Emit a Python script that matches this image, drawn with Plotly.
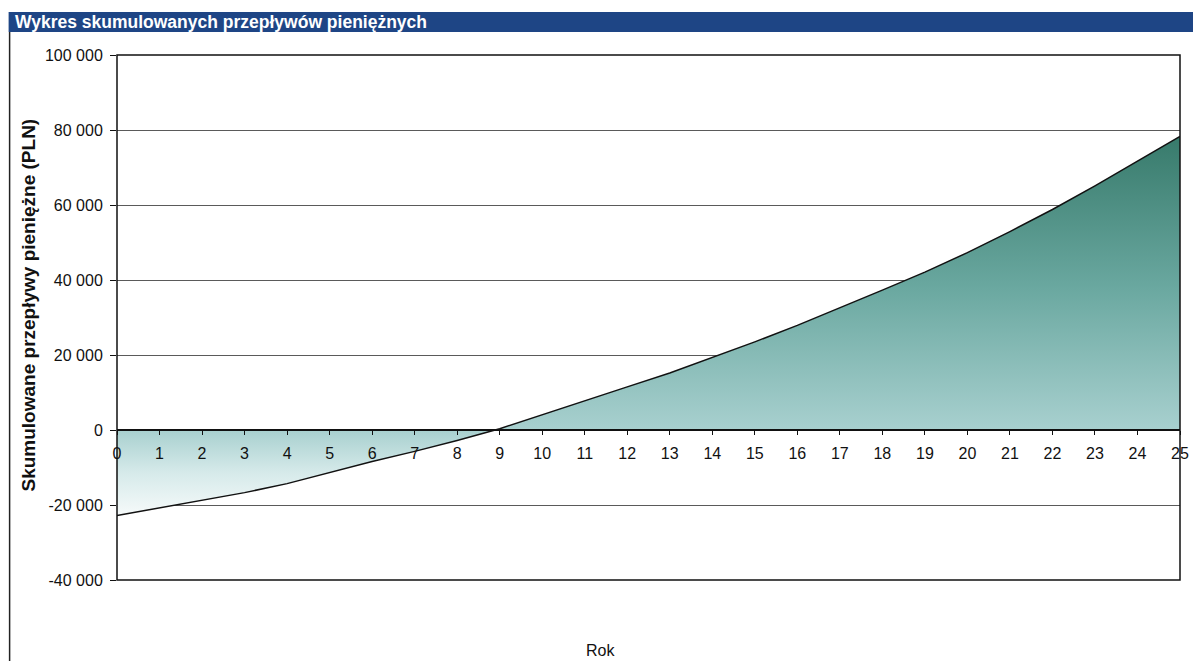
import plotly.graph_objects as go

years = list(range(0, 26))
cumulative_pln = [-22800, -20800, -18800, -16700, -14300, -11300, -8400, -5700, -2800, 350,
                  4000, 7800, 11500, 15200, 19300, 23500, 27900, 32500, 37300, 42100,
                  47300, 52900, 58800, 65100, 71800, 78300]
y_ticks = [-40000, -20000, 0, 20000, 40000, 60000, 80000, 100000]
y_ticktext = [f"{v:,}".replace(",", " ") for v in y_ticks]
x_ticks = years

title_text = "Wykres skumulowanych przepływów pieniężnych"
y_title = "Skumulowane przepływy pieniężne (PLN)"
x_title = "Rok"

# The page places the figure 8px from the top-left corner of the window,
# so the figure is sized and laid out in coordinates shifted by 8px.
OFF = 8
W, H = 1201 - OFF, 661 - OFF
L, R, T, B = 117 - OFF, 1186 - OFF, 55 - OFF, 580 - OFF  # plot area in figure pixels


def px(xpage):
    return (xpage - OFF - L) / (R - L)


def py(ypage):
    return (B - (ypage - OFF)) / (B - T)


font_family = "Arial, Liberation Sans, sans-serif"
ymin, ymax = min(cumulative_pln), max(cumulative_pln)
zero_frac = (0 - ymin) / (ymax - ymin)

fig = go.Figure()
fig.add_trace(go.Scatter(
    x=years, y=cumulative_pln, mode="lines", fill="tozeroy",
    line=dict(color="#111111", width=1.5),
    fillgradient=dict(
        type="vertical", start=ymin, stop=ymax,
        colorscale=[[0, "#f6fafa"], [zero_frac * 0.5, "#d6eaea"],
                    [zero_frac, "#a8d0cf"], [0.6, "#6aa8a0"], [1, "#377a6b"]]),
    hoverinfo="x+y", showlegend=False,
))

fig.update_layout(
    width=W, height=H,
    margin=dict(l=L, r=W - R, t=T, b=H - B),
    paper_bgcolor="white", plot_bgcolor="white",
    font=dict(family=font_family, size=16, color="#111111"),
    showlegend=False,
)
fig.update_yaxes(
    range=[-40000, 100000], tickvals=y_ticks, ticktext=y_ticktext,
    showgrid=True, gridcolor="#5a5a5a", gridwidth=1,
    zeroline=False, showline=False,
    ticks="outside", ticklen=6, tickcolor="#111111", ticklabelstandoff=4,
    tickfont=dict(size=16, color="#111111"),
)
fig.update_xaxes(
    range=[0, 25], tickvals=x_ticks, showgrid=False, zeroline=False,
    showline=True, linecolor="#111111", linewidth=1.5,
    anchor="free", position=(0 - (-40000)) / 140000,
    ticks="outside", ticklen=4, tickcolor="#111111", ticklabelstandoff=5,
    tickfont=dict(size=16, color="#111111"),
)

shapes = [
    # plot-area frame
    dict(type="rect", xref="x domain", yref="y domain", x0=0, x1=1, y0=0, y1=1,
         line=dict(color="#111111", width=1.5), layer="above"),
    # title bar
    dict(type="rect", xref="paper", yref="paper", x0=px(8), x1=px(1201),
         y0=py(32), y1=py(12), fillcolor="#1e4585", line=dict(width=0), layer="above"),
    # outer frame left edge
    dict(type="line", xref="paper", yref="paper", x0=px(9), x1=px(9),
         y0=py(32), y1=py(661), line=dict(color="#222222", width=1.5)),
]
annotations = [
    dict(text=f"<b>{title_text}</b>", xref="paper", yref="paper", x=px(12), y=py(22),
         xanchor="left", yanchor="middle", showarrow=False,
         font=dict(color="white", size=17.5, family=font_family)),
    dict(text=f"<b>{y_title}</b>", xref="paper", yref="paper", x=px(27), y=py(305),
         xanchor="center", yanchor="middle", textangle=-90, showarrow=False,
         font=dict(size=19, color="#111111", family=font_family)),
    dict(text=x_title, xref="paper", yref="paper", x=px(603), y=py(661),
         xanchor="center", yanchor="bottom", showarrow=False,
         font=dict(size=16, color="#111111", family=font_family)),
]
fig.update_layout(shapes=shapes, annotations=annotations)

fig.write_html("out.html")
